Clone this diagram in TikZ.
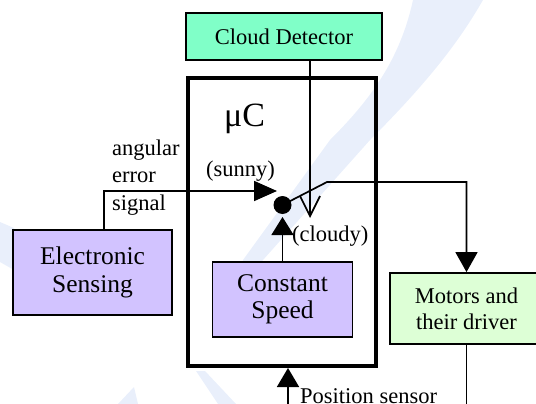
\documentclass[tikz,border=0pt]{standalone}
\usepackage{fontspec}
\setmainfont{Liberation Serif}
\usetikzlibrary{arrows.meta}
\definecolor{wm}{RGB}{233,239,251}
\definecolor{aqua}{RGB}{128,255,200}
\definecolor{lav}{RGB}{210,195,255}
\definecolor{lgreen}{RGB}{221,255,214}
\begin{document}
\begin{tikzpicture}[x=1pt,y=-1pt,
  every node/.style={font=\fontsize{22.5}{26}\selectfont},
  big/.style={font=\fontsize{25.5}{27.5}\selectfont},
  blk/.style={draw,line width=1.8pt,inner sep=0pt,align=center},
  wire/.style={line width=1.7pt},
  ]
\useasboundingbox (0,0) rectangle (536,404);
\clip (0,0) rectangle (536,404);
% watermark
\fill[wm] (413,0) .. controls (400,60) and (370,100) .. (330,140) -- (243,260) -- (236,290)
  -- (263,260) -- (370,140) .. controls (430,80) and (460,40) .. (483,0) -- cycle;
\fill[wm] (118,404) -- (134,387) -- (138,404) -- cycle;
\fill[wm] (196,371) -- (205,371) -- (236,404) -- (218,404) -- cycle;
\fill[wm] (0,222) -- (14,228) -- (14,270) -- (0,262) -- cycle;
% blocks
\node[blk,fill=aqua,minimum width=196pt,minimum height=47pt] (cloud) at (284,36.5) {Cloud Detector};
\node[draw,line width=4pt,minimum width=188pt,minimum height=288pt,inner sep=0pt] (muc) at (282,222) {};
\node[blk,big,fill=lav,minimum width=159pt,minimum height=85pt] (es) at (92.5,272.5) {Electronic\\Sensing};
\node[blk,big,fill=lav,minimum width=140pt,minimum height=75pt] (cs) at (282.5,299.5) {Constant\\Speed};
\node[blk,fill=lgreen,minimum width=153pt,minimum height=71pt] (mot) at (466.5,308.5) {Motors and\\their driver};
\node[circle,fill,inner sep=0pt,minimum size=18pt] (dot) at (282.5,205) {};
% labels
\node[anchor=base west,inner sep=0pt,font=\fontsize{34}{40}\selectfont] (mu) at (224,127) {μC};
\node[anchor=base west,inner sep=0pt] (sunny) at (206,176) {(sunny)};
\node[anchor=base west,inner sep=0pt] (cloudy) at (292,241) {(cloudy)};
\node[anchor=base west,inner sep=0pt] (l1) at (112,155) {angular};
\node[anchor=base west,inner sep=0pt] (l2) at (112,182.5) {error};
\node[anchor=base west,inner sep=0pt] (l3) at (112,210) {signal};
\node[anchor=base west,inner sep=0pt] (pos) at (300,403.5) {Position sensor};
% coordinates
\coordinate (sw) at (277,191);
\coordinate (esn) at (104,230);
\coordinate (lever) at (327,182);
\coordinate (cdtip) at (310,218);
\coordinate (cstip) at (282.5,217);
\coordinate (mucb) at (288,368);
\coordinate (posbot) at (288,420);
\coordinate (motbot) at (467,420);
% connectors
\draw[wire,-{Triangle[length=23pt,width=20pt]}] (esn) |- (sw);
\draw[wire,-{Triangle[length=18pt,width=22pt]}] (cs.north) -- (cstip);
\draw[wire,-{Straight Barb[length=20pt,width=20pt]}] (cloud.south -| cdtip) -- (cdtip);
\draw[wire,-{Triangle[length=20pt,width=22pt]}] (dot.center) -- (lever) -| (mot.north);
\draw[wire] (mot.south) -- (mot.south |- motbot);
\draw[wire,-{Triangle[length=19pt,width=22pt]}] (posbot) -- (mucb);
\end{tikzpicture}
\end{document}
